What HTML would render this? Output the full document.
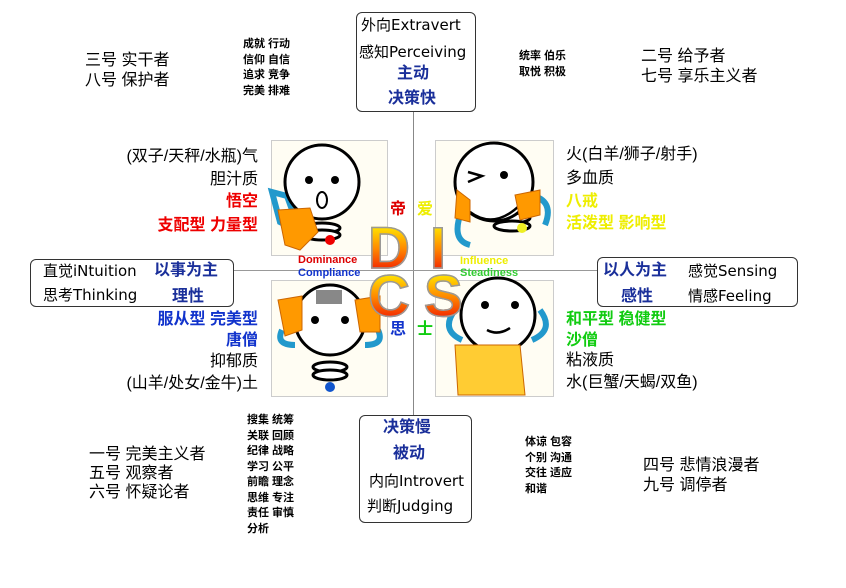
<!DOCTYPE html>
<html><head><meta charset="utf-8"><style>
body{margin:0;width:846px;height:588px;background:#fff;position:relative;overflow:hidden;font-family:"Liberation Sans","Noto Sans CJK SC",sans-serif;color:#000}
.t{position:absolute;white-space:nowrap;font-size:16px;line-height:16px}
.d{font-family:"DejaVu Sans","Noto Sans CJK SC",sans-serif;font-size:15px}
.s{position:absolute;white-space:nowrap;font-size:11px;line-height:15.5px;font-weight:bold}
.b{font-weight:bold}
.box{position:absolute;border:1.5px solid #333;border-radius:6px;background:#fff}
.blue{color:#1a2f9a;font-weight:bold}
.r{text-align:right}
.big{position:absolute;font-size:58px;font-weight:bold;line-height:58px;background:linear-gradient(#ff0,#f80 50%,#e00);-webkit-background-clip:text;background-clip:text;color:transparent;-webkit-text-stroke:1.5px #999}
.pan{position:absolute;background:#fffdf3;border:1px solid #ccc}
</style></head><body>
<div style="position:absolute;left:413px;top:112px;width:1px;height:304px;background:#888"></div>
<div style="position:absolute;left:233px;top:270px;width:365px;height:1px;background:#999"></div>

<div class="box" style="left:356px;top:12px;width:118px;height:98px"></div>
<div class="t d" style="left:361px;top:17px">外向Extravert</div>
<div class="t d" style="left:359px;top:44px">感知Perceiving</div>
<div class="t blue" style="left:397px;top:66px">主动</div>
<div class="t blue" style="left:388px;top:91px">决策快</div>

<div class="box" style="left:359px;top:415px;width:111px;height:106px"></div>
<div class="t blue" style="left:383px;top:420px">决策慢</div>
<div class="t blue" style="left:393px;top:446px">被动</div>
<div class="t d" style="left:369px;top:473px">内向Introvert</div>
<div class="t d" style="left:367px;top:498px">判断Judging</div>

<div class="box" style="left:30px;top:259px;width:202px;height:46px"></div>
<div class="t d" style="left:43px;top:263px">直觉iNtuition</div>
<div class="t d" style="left:43px;top:287px">思考Thinking</div>
<div class="t blue" style="left:154px;top:263px">以事为主</div>
<div class="t blue" style="left:172px;top:289px">理性</div>

<div class="box" style="left:597px;top:257px;width:199px;height:48px"></div>
<div class="t blue" style="left:603px;top:263px">以人为主</div>
<div class="t blue" style="left:621px;top:289px">感性</div>
<div class="t d" style="left:688px;top:263px">感觉Sensing</div>
<div class="t d" style="left:688px;top:288px">情感Feeling</div>

<div class="t" style="left:85px;top:53px">三号 实干者</div>
<div class="t" style="left:85px;top:73px">八号 保护者</div>
<div class="s" style="left:243px;top:37px">成就 行动<br>信仰 自信<br>追求 竞争<br>完美 排难</div>
<div class="s" style="left:519px;top:49px">统率 伯乐<br>取悦 积极</div>
<div class="t" style="left:641px;top:49px">二号 给予者</div>
<div class="t" style="left:641px;top:69px">七号 享乐主义者</div>

<div class="t r" style="right:588px;top:149px">(双子/天秤/水瓶)气</div>
<div class="t r" style="right:588px;top:172px">胆汁质</div>
<div class="t r b" style="right:588px;top:194px;color:#e00">悟空</div>
<div class="t r b" style="right:588px;top:218px;color:#e00">支配型 力量型</div>
<div class="t" style="left:566px;top:147px">火(白羊/狮子/射手)</div>
<div class="t" style="left:566px;top:171px">多血质</div>
<div class="t b" style="left:566px;top:194px;color:#ee0">八戒</div>
<div class="t b" style="left:566px;top:216px;color:#ee0">活泼型 影响型</div>

<div class="t r blue" style="right:588px;top:312px;color:#1133cc">服从型 完美型</div>
<div class="t r blue" style="right:588px;top:333px;color:#1133cc">唐僧</div>
<div class="t r" style="right:588px;top:354px">抑郁质</div>
<div class="t r" style="right:588px;top:376px">(山羊/处女/金牛)土</div>
<div class="t b" style="left:566px;top:312px;color:#1c1">和平型 稳健型</div>
<div class="t b" style="left:566px;top:333px;color:#1c1">沙僧</div>
<div class="t" style="left:566px;top:353px">粘液质</div>
<div class="t" style="left:566px;top:375px">水(巨蟹/天蝎/双鱼)</div>

<div class="t" style="left:89px;top:447px">一号 完美主义者</div>
<div class="t" style="left:89px;top:466px">五号 观察者</div>
<div class="t" style="left:89px;top:485px">六号 怀疑论者</div>
<div class="s" style="left:247px;top:413px">搜集 统筹<br>关联 回顾<br>纪律 战略<br>学习 公平<br>前瞻 理念<br>思维 专注<br>责任 审慎<br>分析</div>
<div class="s" style="left:525px;top:435px">体谅 包容<br>个别 沟通<br>交往 适应<br>和谐</div>
<div class="t" style="left:643px;top:458px">四号 悲情浪漫者</div>
<div class="t" style="left:643px;top:478px">九号 调停者</div>

<div class="pan" style="left:271px;top:140px;width:115px;height:114px"></div>
<div class="pan" style="left:435px;top:140px;width:117px;height:114px"></div>
<div class="pan" style="left:271px;top:280px;width:115px;height:115px"></div>
<div class="pan" style="left:435px;top:280px;width:117px;height:115px"></div>
<svg style="position:absolute;left:0;top:0" width="846" height="588">
<path d="M272 192 L287 196 L300 232 L280 222Z" fill="none" stroke="#29c" stroke-width="6"/>
<path d="M462 210 Q450 240 470 245 M530 195 Q555 200 545 225" fill="none" stroke="#29c" stroke-width="6"/>
<path d="M282 330 Q275 345 295 345 M378 330 Q385 345 365 345" fill="none" stroke="#29c" stroke-width="6"/>
<path d="M462 340 Q440 330 455 310 M532 340 Q555 330 540 310" fill="none" stroke="#29c" stroke-width="6"/>
<g fill="#fff" stroke="#000" stroke-width="3">
<circle cx="322" cy="182" r="37"/>
<ellipse cx="322" cy="228" rx="18" ry="5"/><ellipse cx="322" cy="235" rx="18" ry="5"/>
<ellipse cx="512" cy="218" rx="18" ry="5"/><ellipse cx="512" cy="226" rx="18" ry="5"/>
<circle cx="494" cy="182" r="39"/>
<circle cx="330" cy="320" r="35"/>
<ellipse cx="330" cy="367" rx="17" ry="5"/><ellipse cx="330" cy="375" rx="17" ry="5"/>
<circle cx="498" cy="315" r="37"/>
<ellipse cx="494" cy="356" rx="18" ry="5"/><ellipse cx="494" cy="364" rx="18" ry="5"/>
</g>
<g fill="#000"><circle cx="309" cy="180" r="4"/><circle cx="335" cy="180" r="4"/><circle cx="315" cy="320" r="4"/><circle cx="345" cy="320" r="4"/><circle cx="485" cy="305" r="4"/><circle cx="515" cy="305" r="4"/><circle cx="504" cy="175" r="4"/></g>
<ellipse cx="322" cy="200" rx="5" ry="8" fill="none" stroke="#000" stroke-width="2"/>
<path d="M470 212 Q494 230 520 205 M487 330 Q498 336 510 328" fill="none" stroke="#000" stroke-width="2.5"/>
<path d="M468 182 L482 176 L468 172" fill="none" stroke="#000" stroke-width="2.5"/>
<circle cx="330" cy="240" r="5" fill="#e00"/><circle cx="330" cy="387" r="5" fill="#15c"/><circle cx="522" cy="228" r="5" fill="#ee2"/><circle cx="491" cy="368" r="5" fill="#393"/>
<g fill="#f90" stroke="#c60"><path d="M278 210 L310 208 L318 232 L300 250 L285 245Z"/><path d="M457 190 L470 200 L470 222 L455 218Z"/><path d="M515 195 L540 190 L540 215 L520 220Z"/><path d="M278 300 L302 296 L302 330 L285 336Z"/><path d="M355 300 L380 296 L380 332 L360 332Z"/><path d="M455 345 L520 345 L525 395 L458 395Z" fill="#fc3"/></g>
<rect x="316" y="290" width="26" height="14" fill="#888"/>
</svg>
<div class="big" style="left:368px;top:220px">D</div>
<div class="big" style="left:430px;top:220px">I</div>
<div class="big" style="left:368px;top:268px">C</div>
<div class="big" style="left:424px;top:268px">S</div>
<div class="t b" style="left:390px;top:202px;color:#d00">帝</div>
<div class="t b" style="left:417px;top:202px;color:#ee0">爱</div>
<div class="t b" style="left:390px;top:322px;color:#13c">思</div>
<div class="t b" style="left:417px;top:322px;color:#1c1">士</div>
<div class="s" style="left:298px;top:254px;line-height:12px;color:#d00">Dominance</div>
<div class="s" style="left:298px;top:267px;line-height:12px;color:#13c">Compliance</div>
<div class="s" style="left:460px;top:255px;line-height:12px;color:#ee0">Influence</div>
<div class="s" style="left:460px;top:267px;line-height:12px;color:#3c3">Steadiness</div>
</body></html>
